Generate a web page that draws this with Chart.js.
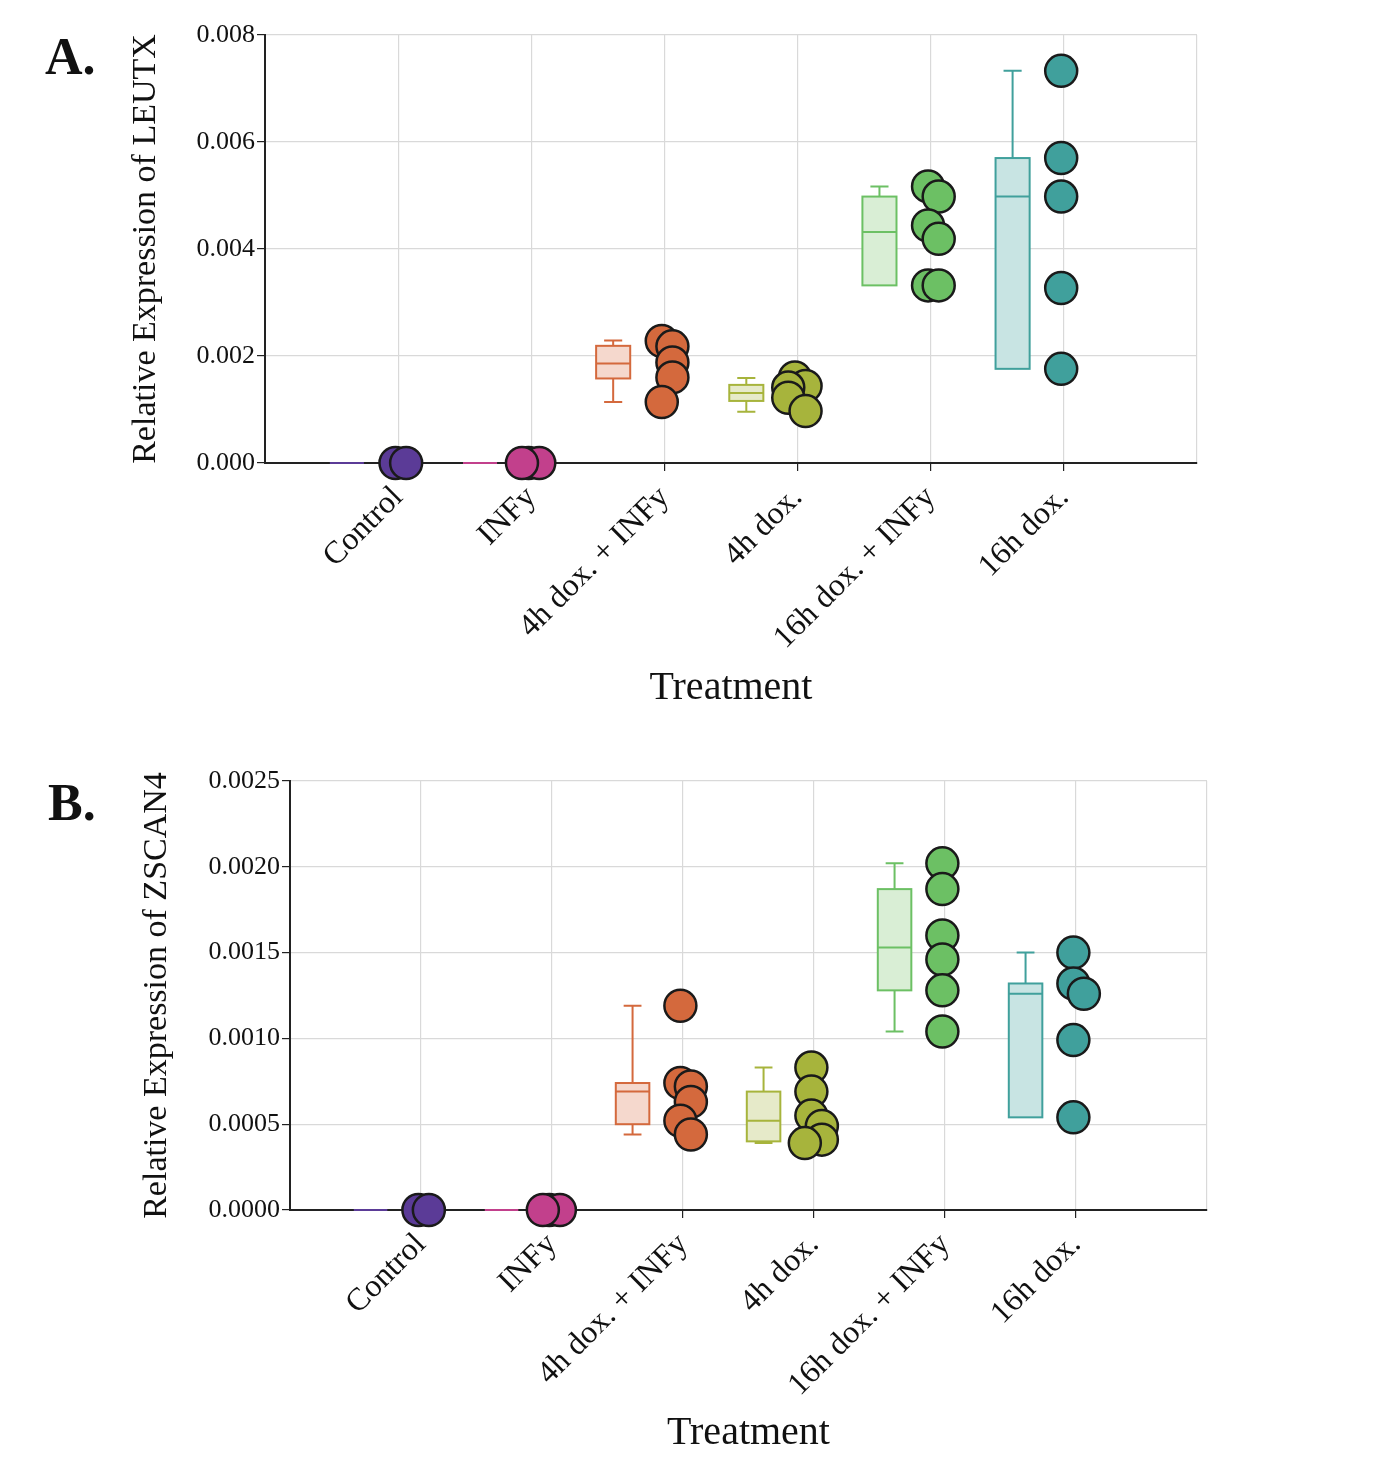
<!DOCTYPE html>
<html>
<head>
<meta charset="utf-8">
<script src="https://cdn.jsdelivr.net/npm/chart.js@4.4.0/dist/chart.umd.min.js"></script>
<style>
  body { margin: 0; background: #fff; }
  #wrap { position: relative; width: 1386px; height: 1480px; }
  .holder { position: absolute; left: 0; width: 1386px; }
  .panel { position: absolute; font: bold 52px 'Liberation Serif', serif; line-height: 1; color: #111; }
</style>
</head>
<body>
<div id="wrap">
  <div class="holder" style="top:0;height:730px"><canvas id="chartA"></canvas></div>
  <div class="holder" style="top:740px;height:740px"><canvas id="chartB"></canvas></div>
  <div class="panel" style="left:45px;top:31px">A.</div>
  <div class="panel" style="left:48px;top:777px">B.</div>
</div>
<script>
const categories = ['Control', 'INFy', '4h dox. + INFy', '4h dox.', '16h dox. + INFy', '16h dox.'];

// LEUTX: individual replicates per treatment
const leutxPoints = [
  [0, 0],
  [0, 0, 0],
  [0.00228, 0.00218, 0.00188, 0.00160, 0.00114],
  [0.00160, 0.00144, 0.00141, 0.00122, 0.00097],
  [0.00517, 0.00498, 0.00444, 0.00419, 0.00332, 0.00332],
  [0.00733, 0.00570, 0.00498, 0.00327, 0.00176]
];
// [min, q1, median, q3, max]
const leutxBoxes = [
  [0, 0, 0, 0, 0],
  [0, 0, 0, 0, 0],
  [0.00114, 0.00158, 0.00186, 0.00219, 0.00229],
  [0.00096, 0.00116, 0.00131, 0.00146, 0.00159],
  [0.00332, 0.00332, 0.00432, 0.00498, 0.00517],
  [0.00176, 0.00176, 0.00498, 0.00570, 0.00733]
];

// ZSCAN4
const zscanPoints = [
  [0, 0],
  [0, 0, 0],
  [0.00119, 0.00074, 0.00072, 0.00063, 0.00052, 0.00044],
  [0.00083, 0.00069, 0.00055, 0.00049, 0.00041, 0.00039],
  [0.00202, 0.00187, 0.00160, 0.00146, 0.00128, 0.00104],
  [0.00150, 0.00132, 0.00126, 0.00099, 0.00054]
];
const zscanBoxes = [
  [0, 0, 0, 0, 0],
  [0, 0, 0, 0, 0],
  [0.00044, 0.00050, 0.00069, 0.00074, 0.00119],
  [0.00039, 0.00040, 0.00052, 0.00069, 0.00083],
  [0.00104, 0.00128, 0.00153, 0.00187, 0.00202],
  [0.00054, 0.00054, 0.00126, 0.00132, 0.00150]
];

const groupColors = ['#5b3b97', '#c2408c', '#d4693d', '#a7b43c', '#6cc064', '#40a09c'];
const boxFills = ['#5b3b97', '#c2408c', '#f5d8cd', '#e6eac9', '#d9eed5', '#c8e4e3'];

const serif = 'Liberation Serif';

// small sideways spread so overlapping replicates stay visible
function spread(vals, idx, yMax) {
  const steps = [-0.02, 0.06, -0.07, 0.1, -0.1, 0.03];
  const placed = [];
  return vals.map(v => {
    const near = placed.filter(p => Math.abs(p - v) < yMax * 0.04).length;
    placed.push(v);
    return { x: idx + steps[near % steps.length], y: v };
  });
}

function boxPlugin(stats) {
  return {
    id: 'boxes',
    beforeDatasetsDraw(chart) {
      const { ctx, scales: { x, y } } = chart;
      stats.forEach((s, i) => {
        const c = i + 1 - 0.385;
        const l = x.getPixelForValue(c - 0.128), r = x.getPixelForValue(c + 0.128);
        const cl = x.getPixelForValue(c - 0.068), cr = x.getPixelForValue(c + 0.068);
        const mid = x.getPixelForValue(c);
        const [mn, q1, md, q3, mx] = s.map(v => y.getPixelForValue(v));
        ctx.save();
        ctx.strokeStyle = groupColors[i];
        ctx.lineWidth = 2;
        if (q1 - q3 > 0.5) {
          ctx.fillStyle = boxFills[i];
          ctx.fillRect(l, q3, r - l, q1 - q3);
          ctx.strokeRect(l, q3, r - l, q1 - q3);
        }
        ctx.beginPath();
        ctx.moveTo(l, md); ctx.lineTo(r, md);
        if (q3 - mx > 0.5) {
          ctx.moveTo(mid, q3); ctx.lineTo(mid, mx);
          ctx.moveTo(cl, mx); ctx.lineTo(cr, mx);
        }
        if (mn - q1 > 0.5) {
          ctx.moveTo(mid, q1); ctx.lineTo(mid, mn);
          ctx.moveTo(cl, mn); ctx.lineTo(cr, mn);
        }
        ctx.stroke();
        ctx.restore();
      });
    }
  };
}

function makeChart(id, points, boxes, opt) {
  const datasets = points.map((vals, i) => ({
    label: categories[i],
    data: spread(vals, i + 1, opt.yMax),
    backgroundColor: groupColors[i],
    borderColor: '#1a1a1a',
    borderWidth: 2.5,
    pointRadius: 16,
    pointHoverRadius: 16,
    clip: false
  }));

  new Chart(document.getElementById(id), {
    type: 'scatter',
    data: { datasets },
    plugins: [boxPlugin(boxes)],
    options: {
      responsive: true,
      maintainAspectRatio: false,
      animation: false,
      layout: { padding: { top: opt.top, right: opt.right, left: 0, bottom: 0 } },
      plugins: { legend: { display: false }, tooltip: { enabled: false } },
      scales: {
        x: {
          type: 'linear',
          min: 0,
          max: 7,
          afterFit: s => { s.height = opt.xHeight; },
          ticks: {
            stepSize: 1,
            autoSkip: false,
            minRotation: 45,
            maxRotation: 45,
            padding: 8,
            color: '#111',
            font: { family: serif, size: 32 },
            callback: v => (v >= 1 && v <= 6 ? categories[v - 1] : '')
          },
          grid: {
            color: c => (c.tick && c.tick.value === 0 ? 'rgba(0,0,0,0)' : '#d9d9d9'),
            tickColor: c => (c.tick && c.tick.value >= 1 && c.tick.value <= 6 ? '#222' : 'rgba(0,0,0,0)'),
            tickLength: 8,
            lineWidth: 1.2
          },
          border: { display: true, color: '#222', width: 2 },
          title: {
            display: true,
            text: 'Treatment',
            color: '#111',
            font: { family: serif, size: 40 },
            padding: { top: 0, bottom: opt.xTitlePad }
          }
        },
        y: {
          min: 0,
          max: opt.yMax,
          afterFit: s => { s.width = opt.yWidth; },
          ticks: {
            stepSize: opt.yStep,
            padding: 2,
            color: '#111',
            font: { family: serif, size: 26 },
            callback: v => v.toFixed(opt.digits)
          },
          grid: { color: '#d9d9d9', tickColor: '#222', tickLength: 8, lineWidth: 1.2 },
          border: { display: true, color: '#222', width: 2 },
          title: {
            display: true,
            text: opt.yTitle,
            color: '#111',
            font: { family: serif, size: 34 },
            padding: { top: opt.yTitlePad, bottom: 0 }
          }
        }
      }
    }
  });
}

makeChart('chartA', leutxPoints, leutxBoxes, {
  yMax: 0.008, yStep: 0.002, digits: 3, yTitle: 'Relative Expression of LEUTX',
  top: 35, right: 189, xHeight: 267, yWidth: 265, xTitlePad: 18, yTitlePad: 126
});
makeChart('chartB', zscanPoints, zscanBoxes, {
  yMax: 0.0025, yStep: 0.0005, digits: 4, yTitle: 'Relative Expression of ZSCAN4',
  top: 41, right: 179, xHeight: 270, yWidth: 290, xTitlePad: 23, yTitlePad: 137
});
</script>
</body>
</html>
